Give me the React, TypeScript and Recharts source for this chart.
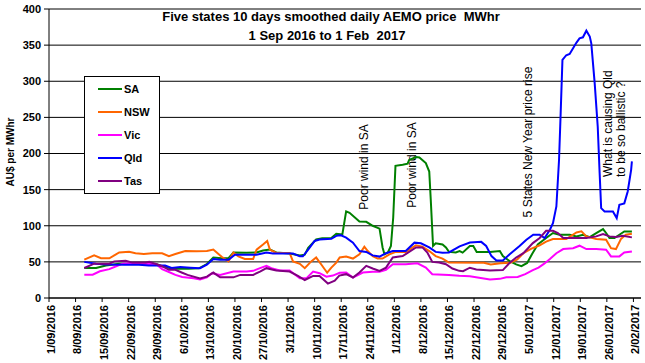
import React from 'react';
import { LineChart, Line, XAxis, YAxis, CartesianGrid, Legend, Customized } from 'recharts';

const FONT = '"Liberation Sans", Arial, Helvetica, sans-serif';

const tickLabels = [
  '1/09/2016', '8/09/2016', '15/09/2016', '22/09/2016', '29/09/2016', '6/10/2016',
  '13/10/2016', '20/10/2016', '27/10/2016', '3/11/2016', '10/11/2016', '17/11/2016',
  '24/11/2016', '1/12/2016', '8/12/2016', '15/12/2016', '22/12/2016', '29/12/2016',
  '5/01/2017', '12/01/2017', '19/01/2017', '26/01/2017', '2/02/2017',
];
const tickDays = tickLabels.map((_, i) => i * 7);
const yTicks = [0, 50, 100, 150, 200, 250, 300, 350, 400];

// [days since 1 Sep 2016, AU$ per MWhr]
const SA: [number, number][] = [
  [9.3, 41.5], [12.4, 41.5], [15, 45], [18.5, 47.5], [23.7, 47.5], [28.2, 47], [29.8, 44], [32.5, 40.5],
  [36.7, 40.5], [39.5, 41], [41.6, 47], [43.3, 56], [45.5, 55], [47.3, 55], [48.6, 63], [52, 62.5],
  [54.7, 63], [56.4, 65.7], [58.2, 67], [59.9, 63], [63.4, 61.5], [66.1, 59], [67.4, 60], [68.3, 69.5],
  [70.4, 81], [72, 82.6], [74.4, 83], [75.7, 89], [77.3, 88], [78.3, 120], [79.2, 118], [81.8, 106],
  [83.6, 105.5], [85.3, 100], [87.1, 96], [87.9, 70], [88.4, 60.5], [89.3, 63], [90.1, 72], [90.7, 111],
  [91.3, 183], [93.2, 184.4], [94.5, 186], [94.9, 191], [96.7, 195], [97.6, 194.5], [99.3, 186.7],
  [100.2, 175], [100.6, 136], [101.2, 72], [101.9, 75.7], [103.7, 74], [104.6, 70], [105.4, 63.8],
  [107.2, 63], [108.2, 65], [109, 62.8], [110.9, 72], [111.8, 72], [112.7, 63.7], [116.2, 63.7],
  [118.8, 65], [119.6, 58], [121.4, 51], [123.1, 46.5], [124.5, 44], [126, 48.5], [127.3, 61],
  [128.8, 74], [131, 83], [132.8, 89.9], [134.5, 87.6], [137.2, 87.6], [139, 85.3], [140.7, 87.6],
  [142.5, 84.3], [144.2, 89.9], [146, 95.4], [146.8, 90], [147.7, 83], [149, 83], [150.3, 87.6],
  [151.6, 92.2], [153.6, 92.2],
];

const NSW: [number, number][] = [
  [9.3, 53], [11.9, 59], [13.7, 55], [15.9, 55], [18.5, 63], [21.1, 64], [22.8, 62], [25, 61], [27.2, 62],
  [29.8, 62], [31.6, 58], [33.3, 61], [35.9, 65], [38.9, 64.8], [41.6, 65], [43.3, 67], [44.2, 63],
  [45.5, 57], [47.3, 50.7], [48.6, 63], [49.9, 57.7], [51.6, 54], [53.8, 54], [54.7, 67], [56.4, 74],
  [57.5, 79], [58.2, 67], [59.9, 62.4], [63.4, 62.4], [64.3, 50.7], [66.1, 47.4], [67.4, 41.3],
  [69.1, 50.7], [70.4, 56], [71.8, 46], [73.3, 35], [74.4, 42], [75.7, 49], [76.6, 56], [78.3, 57.3],
  [80.1, 54.6], [81.8, 60.5], [83.1, 71], [84, 65], [85.3, 58], [86.6, 54.6], [87.9, 54.6], [89.7, 60.5],
  [91.4, 63.8], [94, 63.8], [96.7, 73], [98.4, 71], [100.2, 65], [101.9, 58], [103.7, 54.6], [105.4, 49],
  [114.6, 48.8], [116.4, 46.5], [119, 48], [121.6, 48.8], [123.4, 53.5], [125, 62], [127, 68],
  [129.3, 73], [131, 78], [132.8, 81.6], [136.3, 81.6], [139, 90.8], [140.3, 92.2], [141.6, 85.3],
  [144.2, 81.6], [146.8, 80.6], [148.1, 69], [149.4, 67.7], [150.7, 81.6], [152, 87.6], [153.6, 89],
];

const VIC: [number, number][] = [
  [9.3, 32.3], [11.5, 32.3], [13.4, 37], [15.9, 40], [17.7, 44], [19.4, 47.5], [21, 48], [23.7, 47],
  [28.2, 47], [29.8, 40], [31.6, 36], [33.3, 32], [35.1, 29], [38.1, 27.2], [39.8, 25.8], [41.6, 28.6],
  [42.9, 34.3], [45.1, 32], [48.6, 36.6], [52.1, 36.6], [53.8, 37.6], [55.6, 41.3], [57.3, 44.6],
  [58.6, 41.3], [60.8, 38], [63.4, 38], [66.1, 27.2], [67.8, 27.2], [69.6, 36.6], [71.3, 34.3],
  [73.1, 29.6], [74.8, 31], [76.6, 35], [78.3, 35.3], [80.1, 28.4], [82.7, 35.3], [85.3, 36.2],
  [87.1, 36.2], [88.8, 39], [90.6, 46.8], [94, 46.8], [97.1, 48], [99.3, 42], [101, 33], [105.4, 32],
  [108.1, 30.7], [110.9, 30.2], [116.2, 25.6], [118.8, 26.5], [120.5, 28.8], [123.5, 29], [125.5, 33],
  [127.5, 38.5], [129, 42], [130.5, 47.5], [132, 54], [133.7, 62], [135.5, 67.7], [138.1, 69],
  [139.8, 72.4], [141.6, 67.7], [144.2, 67.7], [146.8, 66.8], [148.1, 57.6], [150.3, 57.6], [151.6, 63],
  [153.6, 64.5],
];

const QLD: [number, number][] = [
  [9.3, 50], [12.4, 47.5], [15, 46.5], [20, 46], [23.7, 46], [26.3, 45], [30.6, 45], [32.3, 41.5],
  [34.6, 43], [37.2, 42], [39.8, 41.3], [41.6, 46], [43.3, 54], [45.1, 53], [47.3, 53], [49, 60],
  [54.7, 60], [57.3, 63], [59, 61.5], [64.3, 61.5], [66.1, 57.7], [66.9, 57.7], [68.3, 67], [70, 79],
  [71.3, 81], [74.4, 82], [75.7, 86], [76.8, 87], [78.3, 83.5], [80.1, 76.6], [81.8, 65], [83.6, 63.8],
  [85.3, 59], [87.1, 57.3], [88.8, 62], [90.6, 65], [94, 65], [96.3, 76.6], [98, 75.7], [100.2, 70],
  [101.9, 63.8], [103.7, 62.8], [105.4, 63], [108.2, 71.5], [110.9, 76.7], [113.9, 77.7], [115.2, 72],
  [116.6, 58], [117.9, 52], [119.6, 52], [121.4, 60.5], [124, 72], [125.8, 80.6], [127.6, 87.6],
  [129.3, 87.6], [130.6, 83], [132, 94.5], [132.8, 103.7], [133.7, 126.7], [134.4, 191], [134.8, 251],
  [135.3, 329.5], [136.3, 336], [137.2, 337.8], [138.1, 345.6], [139, 353.5], [139.8, 359.4],
  [140.7, 360.8], [141.6, 370], [142.5, 361.8], [142.9, 352.5], [143.8, 297], [144.6, 237],
  [145.1, 172.8], [145.5, 124.4], [146.4, 119.8], [148.6, 119.8], [149.6, 110.6], [150.3, 129],
  [151.6, 131], [152.5, 147.5], [153.4, 177.4], [153.6, 189],
];

const TAS: [number, number][] = [
  [9.3, 41.5], [11.9, 47.5], [15.9, 47.5], [17.2, 50.7], [20.2, 51.5], [22, 49], [25.5, 49], [26.4, 50],
  [28.2, 47], [29.8, 44], [31.6, 39], [33.3, 39], [35.1, 35], [36.5, 32], [39.8, 27.2], [41.6, 29.6],
  [43.3, 35.2], [45.1, 28.6], [48.6, 28.6], [50.4, 32], [53.8, 32], [55.6, 36.6], [57.3, 41.3],
  [59.9, 38], [63.4, 36.6], [65.6, 30.5], [67.4, 24.9], [69.6, 30.5], [71.3, 30.5], [73.5, 20],
  [75.3, 24], [76.5, 31], [78.3, 33], [80.1, 28.4], [81.8, 35.3], [83.6, 44.5], [85.3, 40.8],
  [87.1, 37.6], [88.8, 42], [90.6, 56], [93.2, 58], [94.9, 63.8], [96.7, 70], [98.4, 70], [99.7, 62.8],
  [101, 50], [102.8, 49], [104.6, 46.8], [106.3, 40.8], [108.1, 37.6], [109.1, 37.2], [110.9, 41.9],
  [112.6, 39.5], [116.2, 38], [119.6, 38.6], [121.4, 48.8], [123.1, 56], [125, 62], [127.5, 76],
  [129.3, 83], [131, 93], [132.8, 93], [134.1, 89.9], [135.5, 83], [139, 83], [141.6, 83], [144.2, 85.3],
  [146, 88.5], [147.7, 85.3], [149.4, 84.3], [151.2, 86.2], [153.6, 83.9],
];

const SERIES = [
  { name: 'SA', color: '#008000', points: SA },
  { name: 'NSW', color: '#FF6600', points: NSW },
  { name: 'Vic', color: '#FF00FF', points: VIC },
  { name: 'Qld', color: '#0000FF', points: QLD },
  { name: 'Tas', color: '#800080', points: TAS },
];

const toRows = (pts: [number, number][]) => pts.map(([day, v]) => ({ day, v }));

function XTick(props: any) {
  const { x, y, payload } = props;
  const idx = tickDays.indexOf(payload.value);
  return (
    <text
      transform={`translate(${x + 2},${y + 1}) rotate(-90)`}
      textAnchor="end"
      dy="0.35em"
      fill="#000"
      fontSize={11}
      fontWeight="bold"
      fontFamily={FONT}
    >
      {idx >= 0 ? tickLabels[idx] : ''}
    </text>
  );
}

function renderLegend() {
  return (
    <div
      style={{
        width: 76,
        height: 118,
        border: '1px solid #000',
        background: '#fff',
        boxSizing: 'border-box',
        position: 'relative',
        fontFamily: FONT,
        fontWeight: 'bold',
        fontSize: 11,
        color: '#000',
      }}
    >
      {SERIES.map((s, i) => (
        <div key={s.name} style={{ position: 'absolute', left: 13, top: 5 + i * 23, height: 14, display: 'flex', alignItems: 'center' }}>
          <div style={{ width: 24, height: 2, background: s.color }} />
          <span style={{ marginLeft: 2, lineHeight: '14px' }}>{s.name}</span>
        </div>
      ))}
    </div>
  );
}

function Annotations() {
  const common = { fill: '#000', fontFamily: FONT } as const;
  return (
    <g>
      <text x={331} y={21} textAnchor="middle" fontSize={13} fontWeight="bold" {...common} style={{ whiteSpace: 'pre' }}>
        {'Five states 10 days smoothed daily AEMO price  MWhr'}
      </text>
      <text x={327} y={40} textAnchor="middle" fontSize={13} fontWeight="bold" {...common} style={{ whiteSpace: 'pre' }}>
        {'1 Sep 2016 to 1 Feb  2017'}
      </text>
      <text transform="translate(10,152) rotate(-90)" textAnchor="middle" dy="0.35em" fontSize={10} fontWeight="bold" {...common}>
        AU$ per MWhr
      </text>
      <text transform="translate(364,167) rotate(-90)" textAnchor="middle" dy="0.35em" fontSize={12} {...common}>
        Poor wind in SA
      </text>
      <text transform="translate(412,165) rotate(-90)" textAnchor="middle" dy="0.35em" fontSize={12} {...common}>
        Poor wind in SA
      </text>
      <text transform="translate(528,142) rotate(-90)" textAnchor="middle" dy="0.35em" fontSize={12} {...common}>
        5 States New Year price rise
      </text>
      <text transform="translate(608,177) rotate(-90)" textAnchor="start" dy="0.35em" fontSize={12} {...common}>
        What is causing Qld
      </text>
      <text transform="translate(621,177) rotate(-90)" textAnchor="start" dy="0.35em" fontSize={12} {...common}>
        to be so ballistic ?
      </text>
    </g>
  );
}

export default function App() {
  return (
    <div style={{ position: 'absolute', left: 0, top: 0, width: 645, height: 363, background: '#fff' }}>
      <LineChart width={645} height={363} margin={{ top: 9, right: 4, left: 0, bottom: 0 }}>
        <CartesianGrid horizontal vertical={false} stroke="#000" strokeWidth={1} />
        <XAxis
          dataKey="day"
          type="number"
          domain={[0, 156]}
          ticks={tickDays}
          interval={0}
          height={65}
          tick={<XTick />}
          tickSize={4}
          axisLine={{ stroke: '#000' }}
          tickLine={{ stroke: '#000' }}
          allowDuplicatedCategory={false}
        />
        <YAxis
          type="number"
          domain={[0, 400]}
          ticks={yTicks}
          interval={0}
          width={49}
          tickSize={5}
          tickMargin={3}
          axisLine={{ stroke: '#000' }}
          tickLine={{ stroke: '#000' }}
          tick={{ fill: '#000', fontSize: 11, fontWeight: 'bold', fontFamily: FONT }}
        />
        {SERIES.map((s) => (
          <Line
            key={s.name}
            data={toRows(s.points)}
            dataKey="v"
            name={s.name}
            type="linear"
            stroke={s.color}
            strokeWidth={2}
            dot={false}
            activeDot={false}
            isAnimationActive={false}
          />
        ))}
        <Legend
          layout="vertical"
          align="center"
          verticalAlign="middle"
          content={renderLegend}
          wrapperStyle={{ position: 'absolute', left: 84, top: 76, width: 76, height: 118, margin: 0 }}
        />
        <Customized component={<Annotations />} />
      </LineChart>
    </div>
  );
}
